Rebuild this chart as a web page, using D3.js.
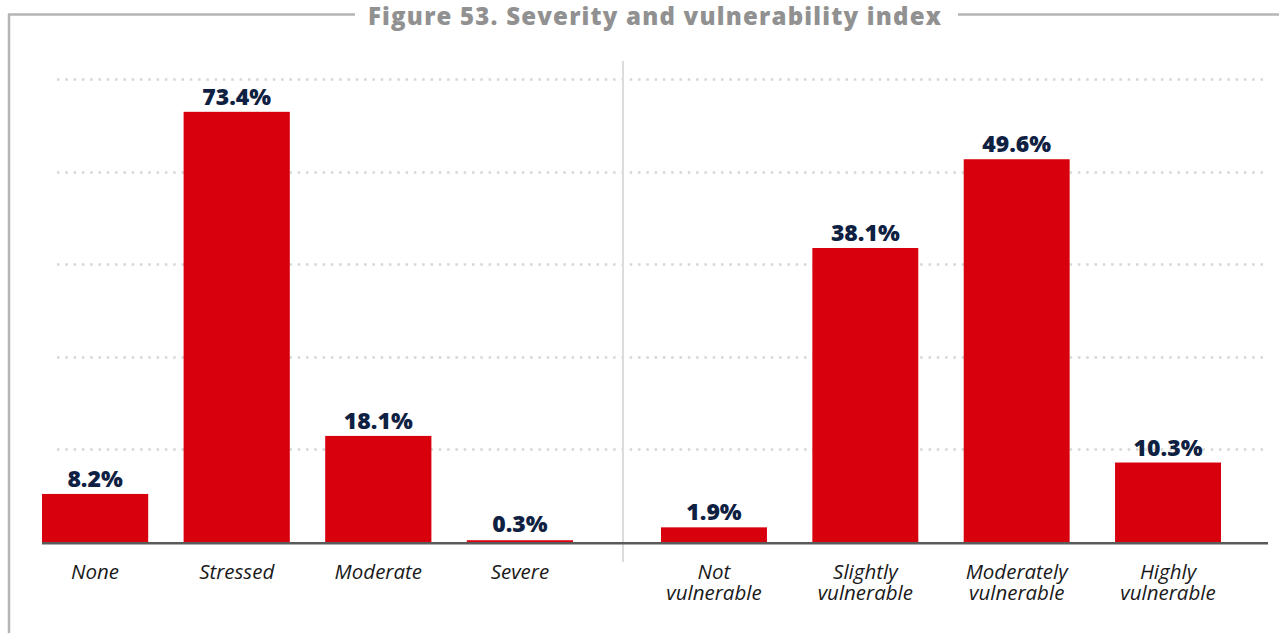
<!DOCTYPE html>
<html><head><meta charset="utf-8">
<script src="https://cdn.jsdelivr.net/npm/d3@7"></script>
<style>body{margin:0;background:#fff}svg{display:block}</style>
</head><body>
<svg id="c" width="1279" height="633"></svg>
<script>
const title = "Figure 53. Severity and vulnerability index";
const severityCats = ["None", "Stressed", "Moderate", "Severe"];
const severityVals = [8.2, 73.4, 18.1, 0.3];
const vulnCats = [["Not", "vulnerable"], ["Slightly", "vulnerable"], ["Moderately", "vulnerable"], ["Highly", "vulnerable"]];
const vulnVals = [1.9, 38.1, 49.6, 10.3];
const gridTicks = [12, 24, 36, 48, 60];

const svg = d3.select("#c");
const baseY = 542, topY = 79;
const yL = d3.scaleLinear().domain([0, 79]).range([baseY, topY]);
const yR = d3.scaleLinear().domain([0, 60]).range([baseY, topY]);
const xL = d3.scaleBand().domain(severityCats).range([42, 573]).paddingInner(0.25);
const xR = d3.scaleBand().domain(vulnCats.map(d => d.join(" "))).range([661, 1221]).paddingInner(0.3);

// frame
const frame = "#b5b5b5";
svg.append("line").attr("x1", 9).attr("x2", 9).attr("y1", 14).attr("y2", 633).attr("stroke", frame).attr("stroke-width", 2.5);
svg.append("line").attr("x1", 8).attr("x2", 355).attr("y1", 14.5).attr("y2", 14.5).attr("stroke", frame).attr("stroke-width", 2.5);
svg.append("line").attr("x1", 958).attr("x2", 1279).attr("y1", 14.5).attr("y2", 14.5).attr("stroke", frame).attr("stroke-width", 2.5);
svg.append("text").attr("x", 655).attr("y", 25).attr("text-anchor", "middle")
  .attr("font-family", "'Open Sans', sans-serif").attr("font-weight", 800).attr("font-size", 24)
  .attr("letter-spacing", 1.2).attr("fill", "#919191").text(title);

// gridlines
svg.append("g").selectAll("line").data(gridTicks).join("line")
  .attr("x1", 57).attr("x2", 1268)
  .attr("y1", d => Math.round(yR(d)) + 0.5).attr("y2", d => Math.round(yR(d)) + 0.5)
  .attr("stroke", "#d6d6d6").attr("stroke-width", 2.5)
  .attr("stroke-dasharray", "2.5,5.8");

// separator
svg.append("line").attr("x1", 623).attr("x2", 623).attr("y1", 61).attr("y2", 562)
  .attr("stroke", "#dcdcdc").attr("stroke-width", 2);

// baseline axis
svg.append("line").attr("x1", 42).attr("x2", 1268).attr("y1", 543.2).attr("y2", 543.2)
  .attr("stroke", "#5a5a5a").attr("stroke-width", 2.5);

const red = "#d9000d", navy = "#0f2142";
const valStyle = s => s.attr("text-anchor", "middle").attr("font-family", "'Open Sans', sans-serif")
  .attr("font-weight", 800).attr("font-size", 23).attr("fill", navy);
// left bars
svg.append("g").selectAll("rect").data(severityVals).join("rect")
  .attr("x", (d, i) => xL(severityCats[i])).attr("width", xL.bandwidth())
  .attr("y", d => yL(d)).attr("height", d => baseY - yL(d)).attr("fill", red);
svg.append("g").selectAll("text").data(severityVals).join("text")
  .attr("x", (d, i) => xL(severityCats[i]) + xL.bandwidth() / 2).attr("y", d => Math.min(yL(d), baseY - 3) - 7)
  .call(valStyle).text(d => d.toFixed(1) + "%");
// right bars
svg.append("g").selectAll("rect").data(vulnVals).join("rect")
  .attr("x", (d, i) => xR(vulnCats[i].join(" "))).attr("width", xR.bandwidth())
  .attr("y", d => yR(d)).attr("height", d => baseY - yR(d)).attr("fill", red);
svg.append("g").selectAll("text").data(vulnVals).join("text")
  .attr("x", (d, i) => xR(vulnCats[i].join(" ")) + xR.bandwidth() / 2).attr("y", d => yR(d) - 7)
  .call(valStyle).text(d => d.toFixed(1) + "%");

// category labels
const labStyle = s => s.attr("text-anchor", "middle").attr("font-family", "'Open Sans', sans-serif")
  .attr("font-style", "italic").attr("font-size", 20.5).attr("fill", "#1a1a1a");
svg.append("g").selectAll("text").data(severityCats).join("text")
  .attr("x", d => xL(d) + xL.bandwidth() / 2).attr("y", 579).call(labStyle).text(d => d);
const rl = svg.append("g").selectAll("text").data(vulnCats).join("text")
  .attr("x", d => xR(d.join(" ")) + xR.bandwidth() / 2).attr("y", 579).call(labStyle);
rl.selectAll("tspan").data(d => d).join("tspan")
  .attr("x", function() { return d3.select(this.parentNode).attr("x"); })
  .attr("dy", (d, i) => i === 0 ? 0 : 20.5).text(d => d);
</script>
</body></html>
